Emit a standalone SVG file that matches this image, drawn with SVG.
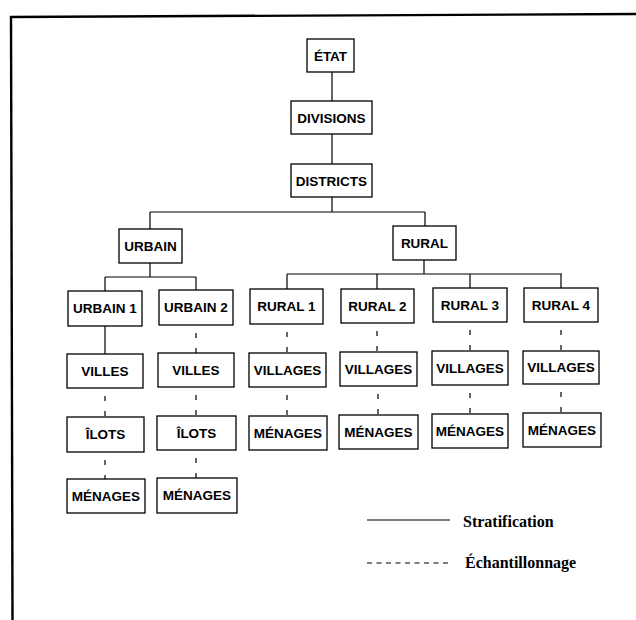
<svg xmlns="http://www.w3.org/2000/svg" width="636" height="620" viewBox="0 0 636 620">
<style>
.box rect{fill:#fff;stroke:#000;stroke-width:1.3}
.box text{font-family:"Liberation Sans",Arial,sans-serif;font-weight:bold;font-size:13.5px;text-anchor:middle;fill:#000}
.s{stroke:#000;stroke-width:1.2;fill:none}
.d{stroke:#000;stroke-width:1.2;fill:none;stroke-dasharray:5 10;stroke-dashoffset:7}
.leg{font-family:"Liberation Serif","Times New Roman",serif;font-weight:bold;font-size:16px;fill:#000}
</style>
<rect width="636" height="620" fill="#fff"/>
<g id="frame">
<line x1="10" y1="17" x2="636" y2="14" stroke="#000" stroke-width="2.4"/>
<line x1="11" y1="16" x2="12.5" y2="620" stroke="#000" stroke-width="2.4"/>
</g>
<g id="connectors">
<path class="s" d="M332 72V101M332 134V164M332 197V212M150 212H425M150 212V229M425 212V226"/>
<path class="s" d="M150 263V277M105 277H196M105 277V291M196 277V290"/>
<path class="s" d="M424 260V274M287 274H562M287 274V289M377 274V289M470 274V288M561 274V288"/>
<path class="s" d="M105 326V354"/>
<path class="d" d="M196 325V353M287 324V353M377 323V352M470 322V351M561 322V351"/>
<path class="d" d="M105 388V417M196 387V416"/>
<path class="d" d="M105 452V479M196 450V478"/>
<path class="d" d="M287 387V416M378 386V415M470 385V414M561 384V413"/>
</g>
<g id="etat" class="box"><rect x="307" y="39" width="47" height="33"/><text x="330.5" y="60.5">ÉTAT</text></g>
<g id="divisions" class="box"><rect x="291" y="101" width="81" height="33"/><text x="331.5" y="122.5">DIVISIONS</text></g>
<g id="districts" class="box"><rect x="291" y="164" width="81" height="33"/><text x="331.5" y="185.5">DISTRICTS</text></g>
<g id="urbain" class="box"><rect x="119" y="229" width="63" height="34"/><text x="150.5" y="250.8">URBAIN</text></g>
<g id="rural" class="box"><rect x="393" y="226" width="63" height="34"/><text x="424.5" y="247.8">RURAL</text></g>
<g id="urbain1" class="box"><rect x="68" y="291" width="74" height="35"/><text x="105" y="313.3">URBAIN 1</text></g>
<g id="urbain2" class="box"><rect x="159" y="290" width="74" height="35"/><text x="196" y="312.3">URBAIN 2</text></g>
<g id="rural1" class="box"><rect x="250" y="289" width="73" height="35"/><text x="286.5" y="311.3">RURAL 1</text></g>
<g id="rural2" class="box"><rect x="341" y="289" width="73" height="34"/><text x="377.5" y="310.8">RURAL 2</text></g>
<g id="rural3" class="box"><rect x="433" y="288" width="74" height="34"/><text x="470" y="309.8">RURAL 3</text></g>
<g id="rural4" class="box"><rect x="524" y="288" width="74" height="34"/><text x="561" y="309.8">RURAL 4</text></g>
<g id="villes1" class="box"><rect x="67" y="354" width="76" height="34"/><text x="105" y="375.8">VILLES</text></g>
<g id="villes2" class="box"><rect x="158" y="353" width="76" height="34"/><text x="196" y="374.8">VILLES</text></g>
<g id="villages1" class="box"><rect x="249" y="353" width="77" height="34"/><text x="287.5" y="374.8">VILLAGES</text></g>
<g id="villages2" class="box"><rect x="340" y="352" width="77" height="34"/><text x="378.5" y="373.8">VILLAGES</text></g>
<g id="villages3" class="box"><rect x="432" y="351" width="76" height="34"/><text x="470" y="372.8">VILLAGES</text></g>
<g id="villages4" class="box"><rect x="523" y="351" width="76" height="33"/><text x="561" y="372.3">VILLAGES</text></g>
<g id="ilots1" class="box"><rect x="67" y="417" width="77" height="35"/><text x="105.5" y="439.3">ÎLOTS</text></g>
<g id="ilots2" class="box"><rect x="157" y="416" width="79" height="34"/><text x="196.5" y="437.8">ÎLOTS</text></g>
<g id="menages_r1" class="box"><rect x="249" y="416" width="78" height="34"/><text x="288" y="437.8">MÉNAGES</text></g>
<g id="menages_r2" class="box"><rect x="339" y="415" width="79" height="34"/><text x="378.5" y="436.8">MÉNAGES</text></g>
<g id="menages_r3" class="box"><rect x="432" y="414" width="76" height="34"/><text x="470" y="435.8">MÉNAGES</text></g>
<g id="menages_r4" class="box"><rect x="523" y="413" width="78" height="34"/><text x="562" y="434.8">MÉNAGES</text></g>
<g id="menages_u1" class="box"><rect x="67" y="479" width="78" height="34"/><text x="106" y="500.8">MÉNAGES</text></g>
<g id="menages_u2" class="box"><rect x="157" y="478" width="80" height="35"/><text x="197" y="500.3">MÉNAGES</text></g>
<g id="legend">
<line class="s" x1="367" y1="520" x2="450" y2="520"/>
<text class="leg" x="463" y="527">Stratification</text>
<line x1="367" y1="563" x2="450" y2="563" stroke="#000" stroke-width="1.1" stroke-dasharray="5 4.5"/>
<text class="leg" x="465" y="568">Échantillonnage</text>
</g>
</svg>
